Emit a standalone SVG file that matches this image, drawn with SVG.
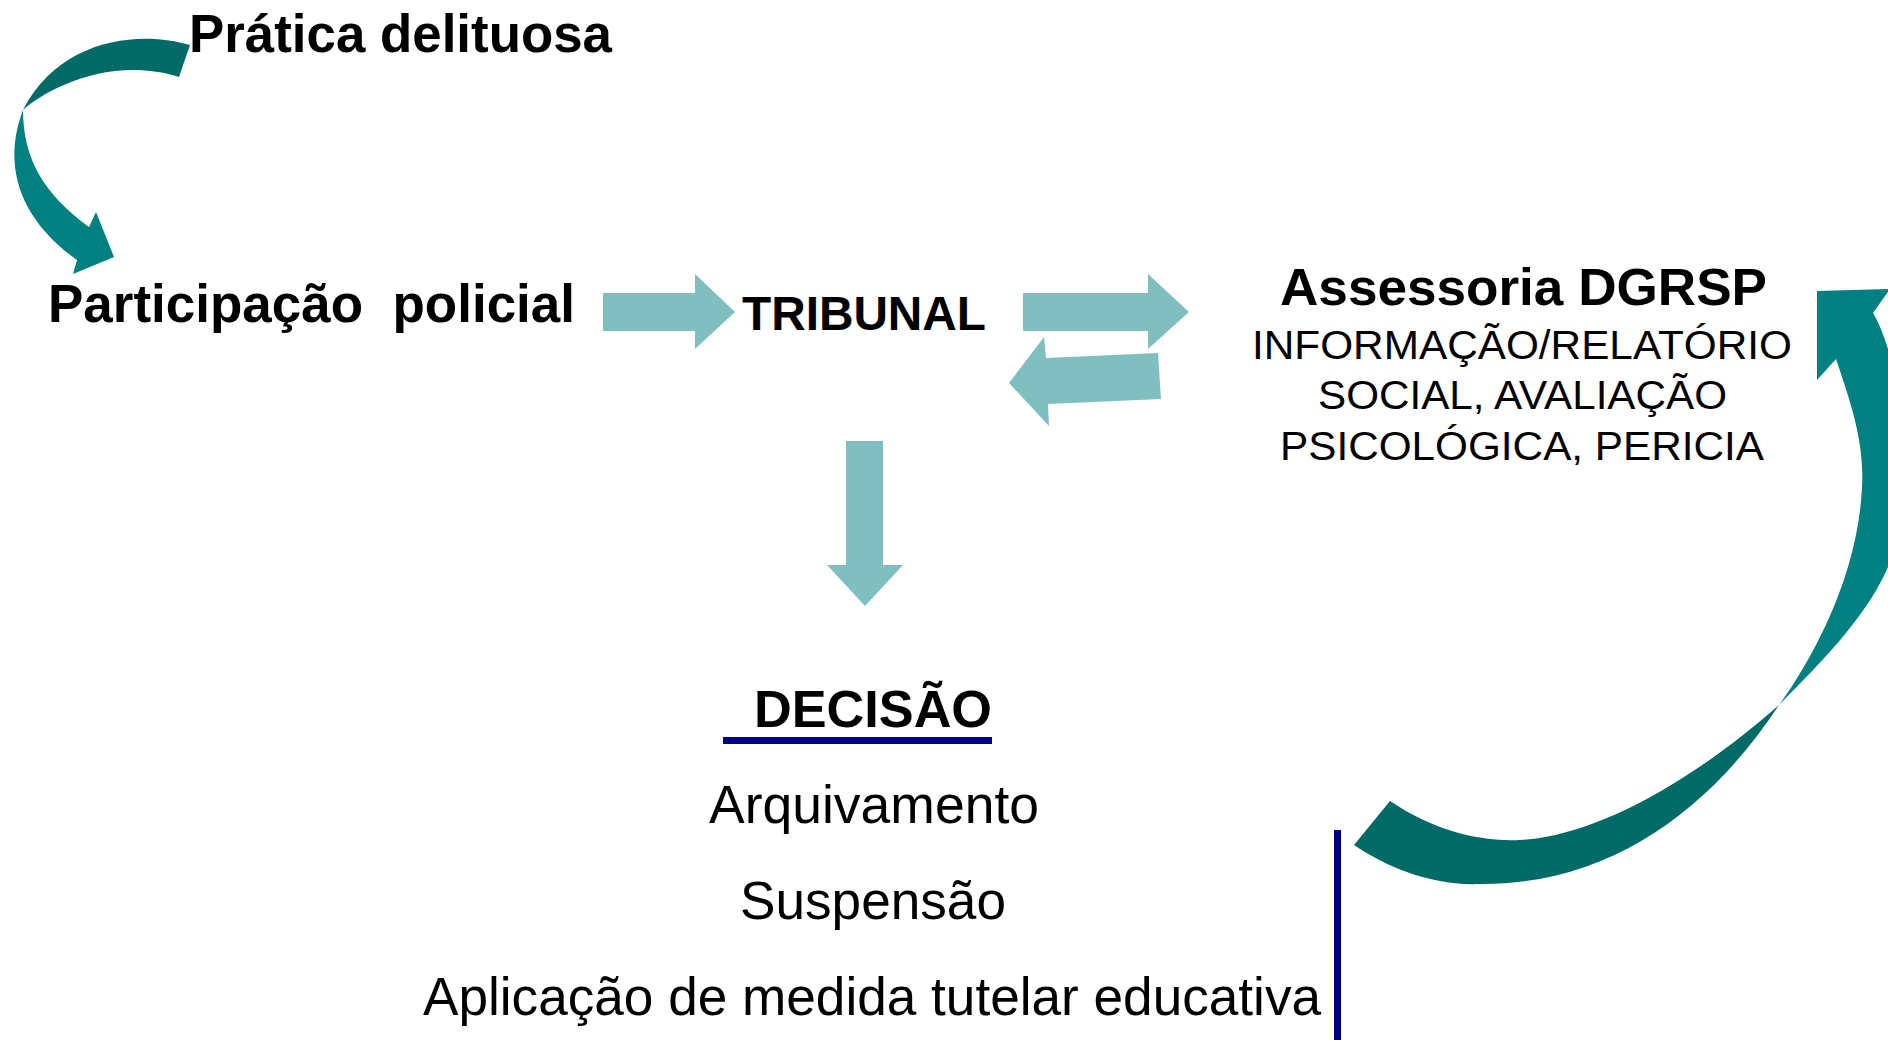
<svg xmlns="http://www.w3.org/2000/svg" width="1888" height="1040" viewBox="0 0 1888 1040">
<style>
  .b { font-family: "Liberation Sans", Arial, sans-serif; font-weight: bold; fill: #000; }
  .r { font-family: "Liberation Sans", Arial, sans-serif; font-weight: normal; fill: #000; }
  .arr { fill: #80BFBF; }
  .dark { fill: #006B66; }
  .light { fill: #008080; }
  .navy { fill: #000080; }
</style>
<rect x="0" y="0" width="1888" height="1040" fill="#ffffff"/>

<g id="connectors">
  <g id="curve-pratica-policia">
    <path class="dark" d="M190,45 C140,30 60,38 23,110 C45,90 110,55 179,77 Z"/>
    <path class="light" d="M23,110 C4,160 14,215 77,260 L73,274 L114,257 L96,212 L89,227 C45,195 23,160 23,110 Z"/>
  </g>
  <path id="arrow-policia-tribunal" class="arr" d="M603,293 L695,293 L695,274 L735,312 L695,349 L695,331 L603,331 Z"/>
  <path id="arrow-tribunal-assessoria" class="arr" d="M1023,293 L1148,293 L1148,274 L1189,312 L1148,349 L1148,331 L1023,331 Z"/>
  <path id="arrow-assessoria-tribunal" class="arr" d="M1009,383 L1044,337 L1046,358 L1158,353 L1161,399 L1048,404 L1049,426 Z"/>
  <path id="arrow-tribunal-decisao" class="arr" d="M846,441 L883,441 L883,565 L903,565 L865,606 L827,565 L846,565 Z"/>
  <g id="curve-decisao-assessoria">
    <path class="dark" d="M1390,801 C1430,828 1475,842 1520,840 C1600,836 1700,775 1779,705 C1710,810 1610,885 1480,884 C1430,886 1385,866 1354,845 Z"/>
    <path class="light" d="M1779,705 C1814,657 1858,575 1862,487 C1865,440 1848,395 1836,359 L1817,380 L1817,291 L1890,289 L1873,313 C1895,350 1912,440 1900,520 C1895,585 1842,642 1779,705 Z"/>
  </g>
</g>

<g id="node-pratica">
  <text class="b" x="189" y="52" font-size="53" textLength="423" lengthAdjust="spacingAndGlyphs">Prática delituosa</text>
</g>

<g id="node-policia">
  <text class="b" x="48" y="322" font-size="53" textLength="527" lengthAdjust="spacingAndGlyphs" xml:space="preserve">Participação  policial</text>
</g>

<g id="node-tribunal">
  <text class="b" x="742" y="330" font-size="48" textLength="244" lengthAdjust="spacingAndGlyphs">TRIBUNAL</text>
</g>

<g id="node-assessoria">
  <text class="b" x="1280" y="305" font-size="52" textLength="487" lengthAdjust="spacingAndGlyphs">Assessoria DGRSP</text>
  <text class="r" x="1252" y="359" font-size="41" textLength="540" lengthAdjust="spacingAndGlyphs">INFORMAÇÃO/RELATÓRIO</text>
  <text class="r" x="1318" y="409" font-size="41" textLength="409" lengthAdjust="spacingAndGlyphs">SOCIAL, AVALIAÇÃO</text>
  <text class="r" x="1280" y="460" font-size="41" textLength="484" lengthAdjust="spacingAndGlyphs">PSICOLÓGICA, PERICIA</text>
</g>

<g id="node-decisao">
  <text class="b" x="754" y="727" font-size="52" textLength="238" lengthAdjust="spacingAndGlyphs">DECISÃO</text>
  <rect class="navy" x="723" y="737" width="269" height="7"/>
  <text class="r" x="709" y="823" font-size="53" textLength="330" lengthAdjust="spacingAndGlyphs">Arquivamento</text>
  <text class="r" x="740" y="919" font-size="53" textLength="266" lengthAdjust="spacingAndGlyphs">Suspensão</text>
  <text class="r" x="423" y="1015" font-size="53" textLength="898" lengthAdjust="spacingAndGlyphs">Aplicação de medida tutelar educativa</text>
  <rect class="navy" x="1334" y="830" width="7" height="210"/>
</g>
</svg>
